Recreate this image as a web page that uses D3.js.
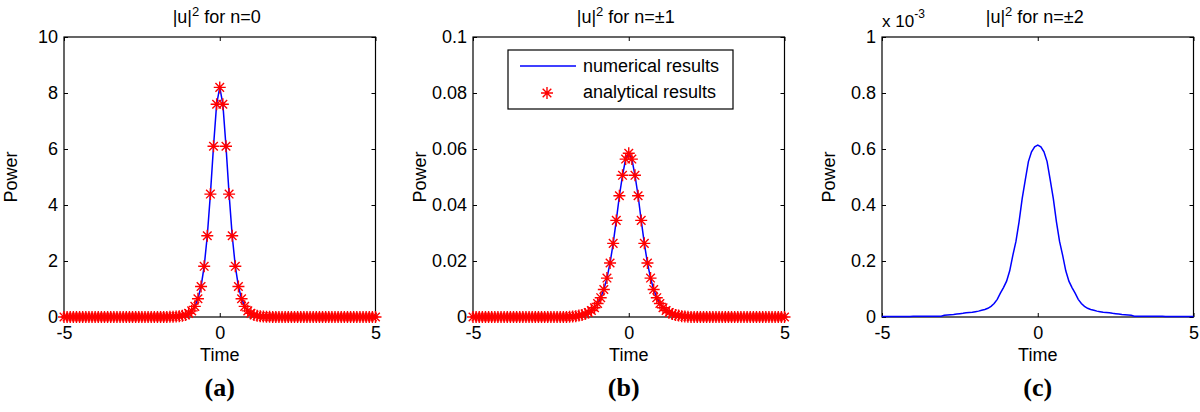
<!DOCTYPE html>
<html>
<head>
<meta charset="utf-8">
<script src="https://cdn.jsdelivr.net/npm/d3@7"></script>
<style>
  body { margin: 0; background: #fff; }
  svg { display: block; }
  text { font-family: "Liberation Sans", Arial, sans-serif; fill: #000; }
</style>
</head>
<body>
<svg class="figure" width="1200" height="412"></svg>
<script>
// sample times (shared by all three panels)
let time = [
  -5,-4.9,-4.8,-4.7,-4.6,-4.5,-4.4,-4.3,-4.2,-4.1,
  -4,-3.9,-3.8,-3.7,-3.6,-3.5,-3.4,-3.3,-3.2,-3.1,
  -3,-2.9,-2.8,-2.7,-2.6,-2.5,-2.4,-2.3,-2.2,-2.1,
  -2,-1.9,-1.8,-1.7,-1.6,-1.5,-1.4,-1.3,-1.2,-1.1,
  -1,-0.9,-0.8,-0.7,-0.6,-0.5,-0.4,-0.3,-0.2,-0.1,
  0,0.1,0.2,0.3,0.4,0.5,0.6,0.7,0.8,0.9,
  1,1.1,1.2,1.3,1.4,1.5,1.6,1.7,1.8,1.9,
  2,2.1,2.2,2.3,2.4,2.5,2.6,2.7,2.8,2.9,
  3,3.1,3.2,3.3,3.4,3.5,3.6,3.7,3.8,3.9,
  4,4.1,4.2,4.3,4.4,4.5,4.6,4.7,4.8,4.9,
  5
];

// (a) n=0
let numericalA = [
  0,0,0,0,0,0,0,0,0,0,
  0,0,0,0,0,0,0,0,0,0,
  0,0,0,0,0,0,0,0,0,0,
  0,0.001,0.002,0.003,0.005,0.008,0.014,0.024,0.042,0.072,
  0.13,0.22,0.38,0.65,1.09,1.81,2.9,4.39,6.1,7.6,
  8.2,7.6,6.1,4.39,2.9,1.81,1.09,0.65,0.38,0.22,
  0.13,0.072,0.042,0.024,0.014,0.008,0.005,0.003,0.002,0.001,
  0,0,0,0,0,0,0,0,0,0,
  0,0,0,0,0,0,0,0,0,0,
  0,0,0,0,0,0,0,0,0,0,
  0
];
let analyticalA = [
  0,0,0,0,0,0,0,0,0,0,
  0,0,0,0,0,0,0,0,0,0,
  0,0,0,0,0,0,0,0,0,0,
  0,0.001,0.002,0.003,0.005,0.008,0.014,0.024,0.042,0.072,
  0.13,0.22,0.38,0.65,1.09,1.81,2.9,4.39,6.1,7.6,
  8.2,7.6,6.1,4.39,2.9,1.81,1.09,0.65,0.38,0.22,
  0.13,0.072,0.042,0.024,0.014,0.008,0.005,0.003,0.002,0.001,
  0,0,0,0,0,0,0,0,0,0,
  0,0,0,0,0,0,0,0,0,0,
  0,0,0,0,0,0,0,0,0,0,
  0
];

// (b) n=+-1
let numericalB = [
  0,0,0,0,0,0,0,0,0,0,
  0,0,0,0,0,0,0,0,0,0,
  0,0,0,0,0,0,0,0,0,0,
  0,0.0001,0.0002,0.0003,0.0005,0.0007,0.0011,0.0016,0.0023,0.0033,
  0.0048,0.0069,0.0098,0.0139,0.0193,0.0263,0.0345,0.0433,0.0506,0.0564,
  0.0585,0.0564,0.0506,0.0433,0.0345,0.0263,0.0193,0.0139,0.0098,0.0069,
  0.0048,0.0033,0.0023,0.0016,0.0011,0.0007,0.0005,0.0003,0.0002,0.0001,
  0,0,0,0,0,0,0,0,0,0,
  0,0,0,0,0,0,0,0,0,0,
  0,0,0,0,0,0,0,0,0,0,
  0
];
let analyticalB = [
  0,0,0,0,0,0,0,0,0,0,
  0,0,0,0,0,0,0,0,0,0,
  0,0,0,0,0,0,0,0,0,0,
  0,0.0001,0.0002,0.0003,0.0005,0.0007,0.0011,0.0016,0.0023,0.0033,
  0.0048,0.0069,0.0098,0.0139,0.0193,0.0263,0.0345,0.0433,0.0506,0.0564,
  0.0585,0.0564,0.0506,0.0433,0.0345,0.0263,0.0193,0.0139,0.0098,0.0069,
  0.0048,0.0033,0.0023,0.0016,0.0011,0.0007,0.0005,0.0003,0.0002,0.0001,
  0,0,0,0,0,0,0,0,0,0,
  0,0,0,0,0,0,0,0,0,0,
  0,0,0,0,0,0,0,0,0,0,
  0
];

// (c) n=+-2, values in units of 1e-3
let numericalC = [
  0.002,0.002,0.002,0.002,0.002,0.002,0.002,0.002,0.002,0.002,
  0.003,0.003,0.003,0.003,0.003,0.003,0.003,0.003,0.003,0.003,
  0.006,0.007,0.008,0.009,0.011,0.012,0.013,0.015,0.016,0.017,
  0.019,0.021,0.024,0.027,0.031,0.038,0.048,0.063,0.085,0.105,
  0.128,0.165,0.22,0.27,0.34,0.423,0.49,0.555,0.59,0.608,
  0.614,0.608,0.59,0.555,0.49,0.423,0.34,0.27,0.22,0.165,
  0.128,0.105,0.085,0.063,0.048,0.038,0.031,0.027,0.024,0.021,
  0.019,0.017,0.016,0.015,0.013,0.012,0.011,0.009,0.008,0.007,
  0.006,0.003,0.003,0.003,0.003,0.003,0.003,0.003,0.003,0.003,
  0.003,0.002,0.002,0.002,0.002,0.002,0.002,0.002,0.002,0.002,
  0.002
];

let xTicks = [-5, 0, 5];
let xLabels = ["-5", "0", "5"];
let yTicksA = [0, 2, 4, 6, 8, 10];
let yLabelsA = ["0", "2", "4", "6", "8", "10"];
let yTicksB = [0, 0.02, 0.04, 0.06, 0.08, 0.1];
let yLabelsB = ["0", "0.02", "0.04", "0.06", "0.08", "0.1"];
let yTicksC = [0, 0.2, 0.4, 0.6, 0.8, 1];
let yLabelsC = ["0", "0.2", "0.4", "0.6", "0.8", "1"];
let titleEnds = [" for n=0", " for n=\u00b11", " for n=\u00b12"];
let captions = ["(a)", "(b)", "(c)"];
let legendLabels = ["numerical results", "analytical results"];

let panels = [
  {left: 64,  yMax: 10,  yTicks: yTicksA, yLabels: yLabelsA, line: numericalA, stars: analyticalA},
  {left: 473, yMax: 0.1, yTicks: yTicksB, yLabels: yLabelsB, line: numericalB, stars: analyticalB},
  {left: 882, yMax: 1,   yTicks: yTicksC, yLabels: yLabelsC, line: numericalC, stars: null}
];

let svg = d3.select(".figure");
svg.append("rect").attr("width", 1200).attr("height", 412).attr("fill", "#fff");

let plotTop = 37, plotWidth = 311.5, plotHeight = 280;
let starPath = "M-6,0H6M0,-6V6M-4.3,-4.3L4.3,4.3M-4.3,4.3L4.3,-4.3";

panels.forEach(function(p, i) {
  let x = d3.scaleLinear().domain([-5, 5]).range([0, plotWidth]);
  let y = d3.scaleLinear().domain([0, p.yMax]).range([plotHeight, 0]);
  let g = svg.append("g").attr("transform", translate(p.left, plotTop));

  // inward ticks on all four sides, MATLAB style
  let bottom = g.append("g").attr("transform", translate(0, plotHeight))
    .call(d3.axisBottom(x).tickValues(xTicks).tickSize(-4).tickPadding(9).tickFormat((d, k) => xLabels[k]));
  g.append("g").call(d3.axisTop(x).tickValues(xTicks).tickSize(-4).tickFormat(""));
  g.append("g")
    .call(d3.axisLeft(y).tickValues(p.yTicks).tickSize(-4).tickPadding(6).tickFormat((d, k) => p.yLabels[k]));
  g.append("g").attr("transform", translate(plotWidth, 0))
    .call(d3.axisRight(y).tickValues(p.yTicks).tickSize(-4).tickFormat(""));
  g.selectAll(".domain").remove();
  g.selectAll(".tick line").attr("stroke", "#000");
  g.selectAll(".tick text").style("font-size", "18px").attr("fill", "#000");
  bottom.selectAll(".tick text").attr("y", 9).attr("dy", "0.72em");

  g.append("rect").attr("width", plotWidth).attr("height", plotHeight)
    .attr("fill", "none").attr("stroke", "#000").attr("stroke-width", 1.2);

  let pts = time.map((t, k) => [t, p.line[k]]);
  g.append("path").datum(pts)
    .attr("d", d3.line().x(d => x(d[0])).y(d => y(d[1])))
    .attr("fill", "none").attr("stroke", "#0000ff").attr("stroke-width", 1.5);

  if (p.stars) {
    g.selectAll(".star").data(time.map((t, k) => [t, p.stars[k]]))
      .enter().append("path")
      .attr("class", "star")
      .attr("d", starPath)
      .attr("transform", d => translate(x(d[0]), y(d[1])))
      .attr("fill", "none").attr("stroke", "#ff0000").attr("stroke-width", 1.4);
  }

  // title with superscript
  let title = g.append("text").attr("x", plotWidth / 2 - 3).attr("y", -14)
    .attr("text-anchor", "middle").style("font-size", "18px");
  title.append("tspan").text("|u|");
  title.append("tspan").attr("dy", -7).style("font-size", "13px").text("2");
  title.append("tspan").attr("dy", 7).text(titleEnds[i]);

  g.append("text").attr("x", plotWidth / 2).attr("y", 361 - plotTop)
    .attr("text-anchor", "middle").style("font-size", "18px").text("Time");

  g.append("text").attr("transform", translate(-47, plotHeight / 2) + " rotate(-90)")
    .attr("text-anchor", "middle").style("font-size", "18px").text("Power");

  g.append("text").attr("x", plotWidth / 2 - (i === 1 ? 5 : 0)).attr("y", 396 - plotTop)
    .attr("text-anchor", "middle")
    .style("font-family", "'Liberation Serif', 'Times New Roman', serif")
    .style("font-weight", "bold").style("font-size", "26px")
    .text(captions[i]);

  if (i === 2) {
    let mult = g.append("text").attr("x", 0).attr("y", 26.5 - plotTop).style("font-size", "17px");
    mult.append("tspan").text("x 10");
    mult.append("tspan").attr("dy", -9).style("font-size", "12px").text("-3");
  }

  if (i === 1) {
    let lg = g.append("g").attr("transform", translate(508 - p.left, 50 - plotTop));
    lg.append("rect").attr("width", 225).attr("height", 59)
      .attr("fill", "#fff").attr("stroke", "#000").attr("stroke-width", 1.2);
    lg.append("line").attr("x1", 12).attr("x2", 68).attr("y1", 16).attr("y2", 16)
      .attr("stroke", "#0000ff").attr("stroke-width", 1.5);
    lg.append("path").attr("d", starPath).attr("transform", translate(39, 43))
      .attr("fill", "none").attr("stroke", "#ff0000").attr("stroke-width", 1.4);
    lg.selectAll(".lab").data(legendLabels).enter().append("text")
      .attr("x", 75).attr("y", (d, k) => 22 + k * 26)
      .style("font-size", "18px").text(d => d);
  }
});

function translate(x, y) {
  return "translate(" + x + "," + y + ")";
}
</script>
</body>
</html>
